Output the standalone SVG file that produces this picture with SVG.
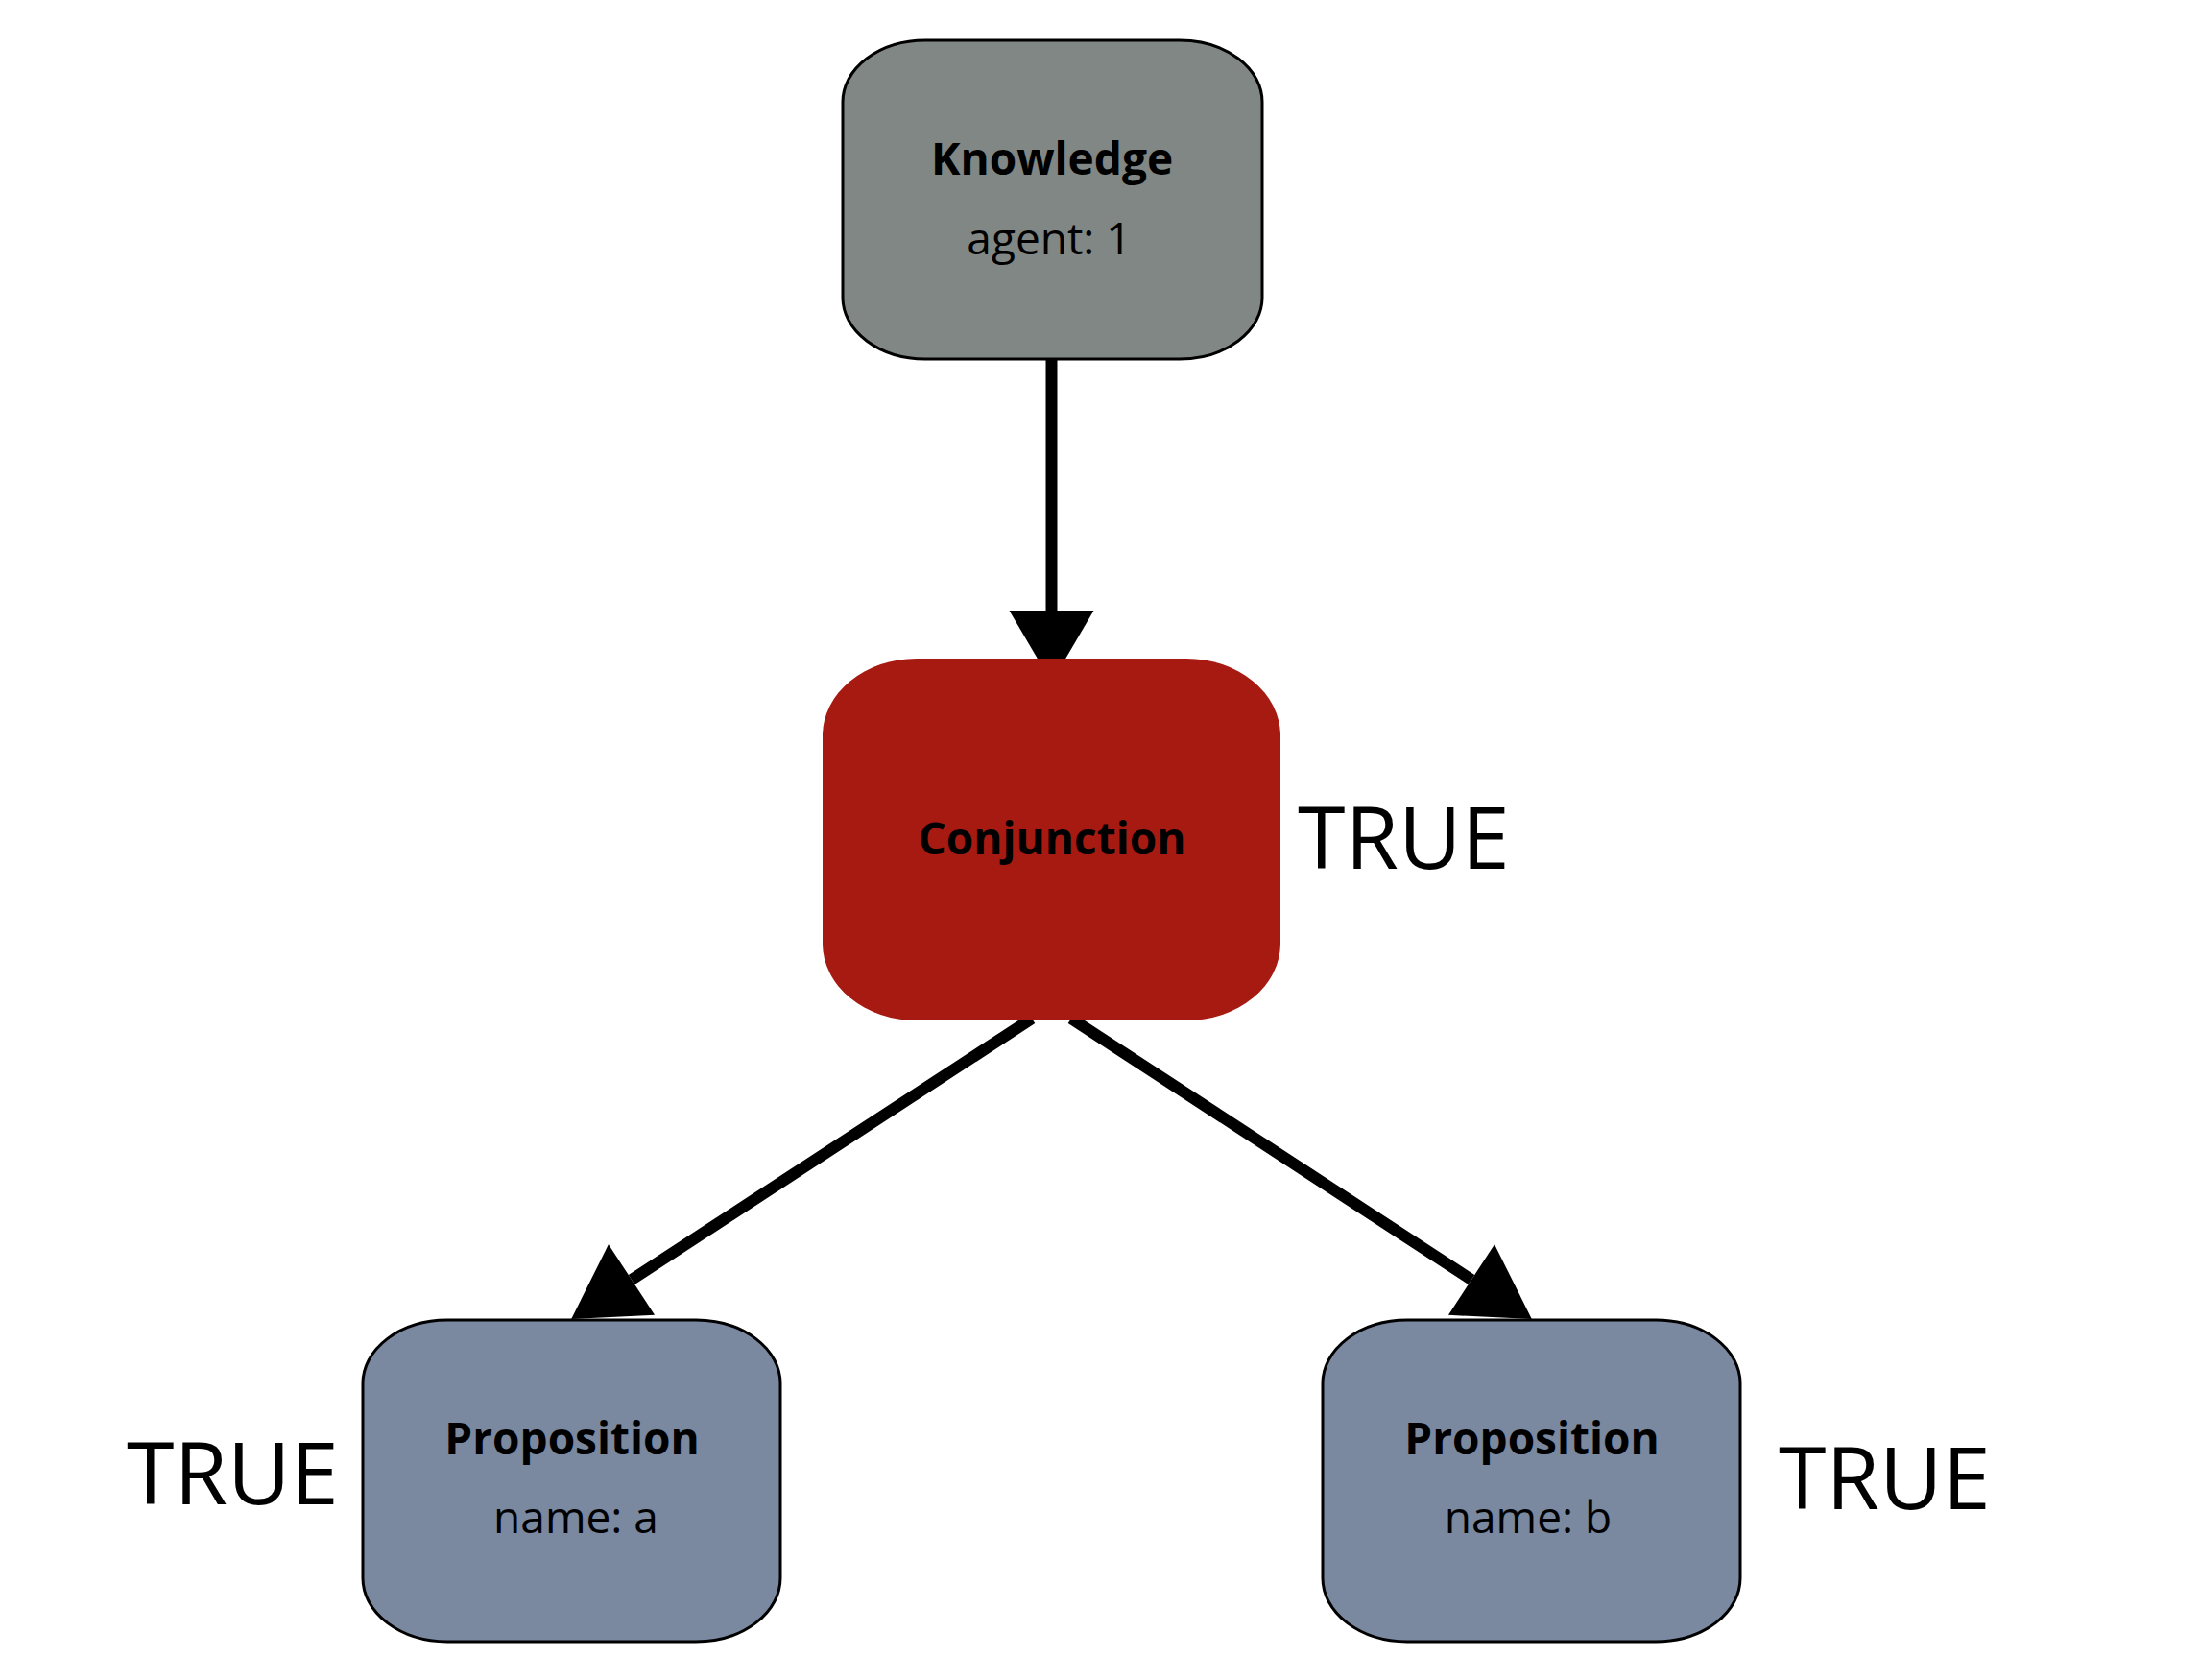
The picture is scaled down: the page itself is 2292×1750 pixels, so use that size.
<svg xmlns="http://www.w3.org/2000/svg" width="2292" height="1750" viewBox="0 0 2292 1750">
<style>
.b{font-family:"Open Sans","Noto Sans","Liberation Sans",sans-serif;font-weight:bold;font-size:46px;text-anchor:middle;fill:#000}
.r{font-family:"Open Sans","Noto Sans","Liberation Sans",sans-serif;font-size:46px;text-anchor:middle;fill:#000}
.t{font-family:"Open Sans","Noto Sans","Liberation Sans",sans-serif;font-size:90px;fill:#000}
.edge{stroke:#000;stroke-width:12;fill:none}
</style>
<defs>
<marker id="ah" markerUnits="userSpaceOnUse" markerWidth="76" markerHeight="88" refX="0" refY="44" orient="auto" overflow="visible">
<path d="M0,0 L75,44 L0,88 Z" fill="#000"/>
</marker>
</defs>
<rect width="2292" height="1750" fill="#fff"/>
<g id="connectors">
<line class="edge" x1="1095.5" y1="374" x2="1095.5" y2="636" marker-end="url(#ah)"/>
<line class="edge" x1="1075" y1="1061" x2="658" y2="1333" marker-end="url(#ah)"/>
<line class="edge" x1="1116" y1="1061" x2="1533" y2="1333" marker-end="url(#ah)"/>
</g>
<g id="knowledge">
<rect x="878" y="42" width="437" height="332" rx="86" ry="64" fill="#818784" stroke="#000" stroke-width="3"/>
<text class="b" x="1096" y="182">Knowledge</text>
<text class="r" x="1093" y="265">agent: 1</text>
</g>
<g id="conjunction">
<rect x="857" y="686" width="477" height="377" rx="98" ry="80" fill="#A71A12"/>
<text class="b" x="1096" y="890">Conjunction</text>
<text class="t" x="1352" y="905">TRUE</text>
</g>
<g id="prop-a">
<rect x="378" y="1375" width="435" height="335" rx="88" ry="66" fill="#7A88A0" stroke="#000" stroke-width="3"/>
<text class="b" x="596" y="1515">Proposition</text>
<text class="r" x="600" y="1597">name: a</text>
<text class="t" x="132" y="1567">TRUE</text>
</g>
<g id="prop-b">
<rect x="1378" y="1375" width="435" height="335" rx="88" ry="66" fill="#7A88A0" stroke="#000" stroke-width="3"/>
<text class="b" x="1596" y="1515">Proposition</text>
<text class="r" x="1592" y="1597">name: b</text>
<text class="t" x="1853" y="1572">TRUE</text>
</g>
</svg>
